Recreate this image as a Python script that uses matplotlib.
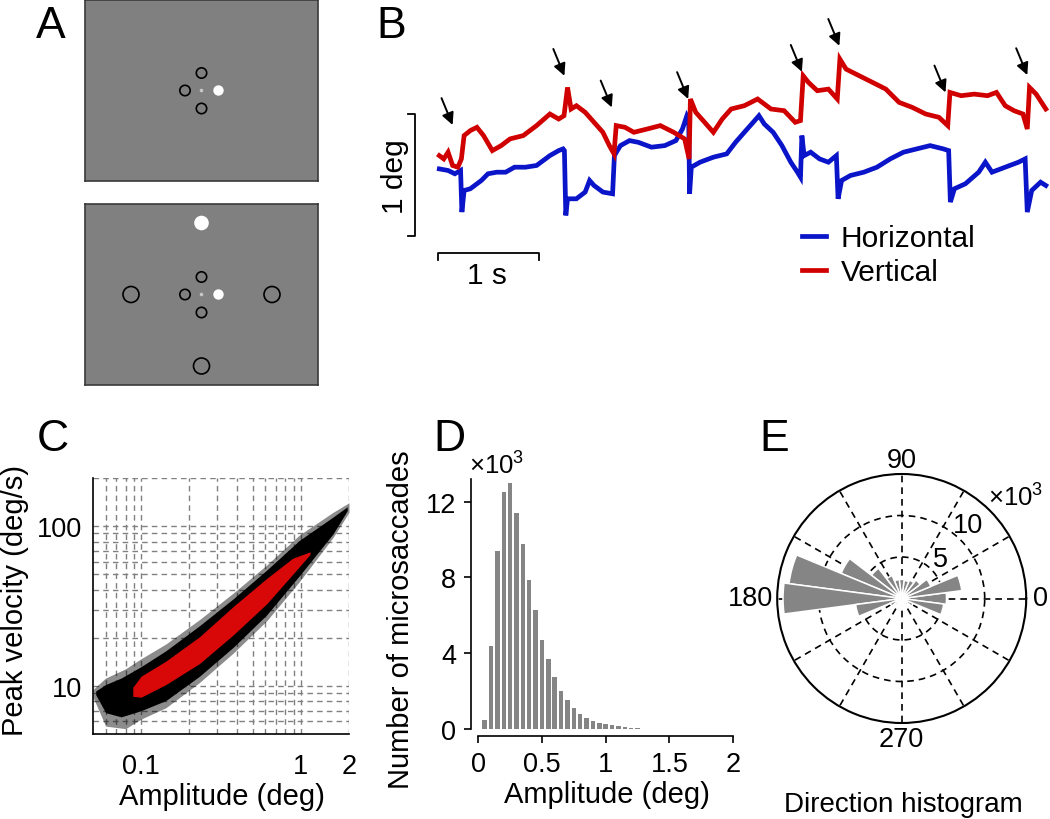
"""Microsaccade figure: task screens, eye traces, main sequence, amplitude and direction histograms."""

import matplotlib
matplotlib.use("Agg")
import matplotlib.pyplot as plt
import numpy as np
from matplotlib.patches import Circle
from matplotlib.ticker import FixedLocator, FixedFormatter, NullFormatter

plt.rcParams["font.family"] = ["Liberation Sans", "DejaVu Sans"]
plt.rcParams["font.size"] = 19
plt.rcParams["mathtext.fontset"] = "custom"
plt.rcParams["mathtext.rm"] = "Liberation Sans"

# ---- panel A: stimulus positions (offsets from screen centre, px) ----
near_ring_x = [-16.5, 0, 0]
near_ring_y = [0, 17.5, -18]
near_target = (17, 0)
far_ring_x = [-70.5, 70.5, 0]
far_ring_y = [0, 0, -71.5]
far_target = (0, 71.5)

# ---- panel B: eye position traces (s, deg) ----
blue_t = [0.013, 0.10, 0.167, 0.224, 0.237, 0.259, 0.32, 0.364, 0.43, 0.496, 0.583, 0.671,
          0.759, 0.868, 0.978, 1.11, 1.197, 1.241, 1.254, 1.268, 1.285, 1.373, 1.46, 1.504,
          1.548, 1.636, 1.732, 1.75, 1.81, 1.90, 1.987, 2.118, 2.25, 2.36, 2.425, 2.469,
          2.487, 2.496, 2.513, 2.60, 2.732, 2.864, 2.952, 3.039, 3.127, 3.184, 3.237, 3.325,
          3.412, 3.50, 3.566, 3.596, 3.61, 3.632, 3.697, 3.785, 3.873, 3.952, 3.969, 4.004,
          4.092, 4.224, 4.355, 4.487, 4.618, 4.75, 4.882, 5.013, 5.066, 5.083, 5.123, 5.232,
          5.364, 5.43, 5.496, 5.627, 5.759, 5.825, 5.846, 5.89, 5.978, 6.03]
blue_v = [0.55, 0.537, 0.51, 0.537, 0.196, 0.373, 0.387, 0.414, 0.455, 0.51, 0.523, 0.523,
          0.564, 0.564, 0.578, 0.659, 0.70, 0.714, 0.70, 0.169, 0.305, 0.305, 0.36, 0.455,
          0.414, 0.36, 0.346, 0.66, 0.741, 0.782, 0.768, 0.728, 0.741, 0.782, 0.877, 0.986,
          0.959, 0.346, 0.564, 0.605, 0.646, 0.673, 0.768, 0.85, 0.932, 0.986, 0.918, 0.85,
          0.741, 0.605, 0.523, 0.482, 0.823, 0.659, 0.687, 0.632, 0.605, 0.659, 0.305, 0.455,
          0.496, 0.523, 0.564, 0.632, 0.687, 0.714, 0.741, 0.714, 0.70, 0.278, 0.387, 0.428,
          0.523, 0.605, 0.523, 0.564, 0.605, 0.632, 0.196, 0.373, 0.441, 0.414]
red_t = [0.013, 0.057, 0.10, 0.145, 0.197, 0.232, 0.259, 0.32, 0.386, 0.452, 0.539, 0.627,
         0.715, 0.846, 0.978, 1.11, 1.197, 1.25, 1.285, 1.32, 1.373, 1.46, 1.548, 1.636,
         1.70, 1.746, 1.768, 1.855, 1.943, 2.075, 2.206, 2.338, 2.447, 2.491, 2.504, 2.557,
         2.645, 2.732, 2.82, 2.908, 3.039, 3.171, 3.303, 3.434, 3.544, 3.596, 3.623, 3.675,
         3.763, 3.873, 3.961, 3.987, 4.048, 4.18, 4.311, 4.443, 4.575, 4.706, 4.838, 4.969,
         5.057, 5.079, 5.189, 5.32, 5.452, 5.54, 5.627, 5.715, 5.803, 5.846, 5.868, 5.934,
         6.03]
red_v = [0.659, 0.632, 0.687, 0.578, 0.564, 0.632, 0.823, 0.864, 0.891, 0.823, 0.70, 0.741,
         0.796, 0.823, 0.905, 1.0, 0.959, 0.986, 1.218, 1.041, 1.068, 1.014, 0.932, 0.85,
         0.741, 0.673, 0.905, 0.891, 0.85, 0.877, 0.905, 0.85, 0.796, 0.632, 1.123, 1.014,
         0.932, 0.85, 0.959, 1.041, 1.068, 1.123, 1.041, 1.027, 0.932, 0.946, 1.313, 1.259,
         1.191, 1.204, 1.123, 1.45, 1.368, 1.313, 1.259, 1.204, 1.095, 1.054, 1.0, 0.973,
         0.905, 1.177, 1.15, 1.163, 1.15, 1.177, 1.068, 1.027, 1.0, 0.877, 1.218, 1.163,
         1.041]
# detected microsaccades (arrow tips)
arrow_t = [0.145, 1.254, 1.724, 2.482, 3.61, 3.982, 5.035, 5.846]
arrow_v = [0.91, 1.313, 1.054, 1.123, 1.346, 1.559, 1.177, 1.319]

# ---- panel C: main-sequence cloud envelopes (deg, deg/s) ----
halo_amp = [0.05, 0.06, 0.08, 0.1, 0.143, 0.232, 0.376, 0.61, 0.98, 1.59, 2.0]
halo_lo = [8.5, 5.6, 5.4, 6.2, 7.3, 10.5, 16.0, 25.5, 45.0, 85.0, 122.0]
halo_hi = [9.5, 11.2, 12.8, 14.8, 18.3, 26.0, 38.0, 57.0, 88.0, 122.0, 140.0]
cloud_amp = [0.052, 0.06, 0.075, 0.1, 0.143, 0.232, 0.376, 0.61, 0.98, 1.59, 1.95]
cloud_lo = [8.8, 6.8, 6.4, 7.0, 8.1, 11.5, 17.4, 27.8, 49.0, 89.5, 125.0]
cloud_hi = [9.3, 10.2, 11.2, 13.2, 16.6, 23.8, 35.0, 53.0, 81.5, 114.0, 132.0]
core_amp = [0.0887, 0.1, 0.143, 0.232, 0.376, 0.61, 0.89, 1.14]
core_lo = [8.6, 8.5, 10.2, 13.8, 20.8, 32.6, 50.0, 66.5]
core_hi = [9.8, 11.5, 14.3, 20.3, 31.3, 47.0, 63.0, 69.0]

# ---- panel D: amplitude histogram (deg, x10^3) ----
amp_bins = [0.05, 0.10, 0.15, 0.20, 0.25, 0.30, 0.35, 0.40, 0.45, 0.50, 0.55, 0.60, 0.65,
            0.70, 0.75, 0.80, 0.85, 0.90, 0.95, 1.00, 1.05, 1.10, 1.15, 1.20, 1.25]
amp_counts = [0.48, 4.38, 9.42, 12.53, 13.0, 11.38, 9.79, 7.85, 6.26, 4.71, 3.67, 2.77, 2.03,
              1.55, 1.09, 0.79, 0.58, 0.44, 0.34, 0.25, 0.19, 0.14, 0.10, 0.07, 0.05]

# ---- panel E: direction histogram (deg, x10^3) ----
dir_bins = [0, 15, 30, 45, 60, 75, 90, 105, 120, 135, 150, 165,
            180, 195, 210, 225, 240, 255, 270, 285, 300, 315, 330, 345]
dir_counts = [5.4, 7.3, 3.8, 2.8, 2.4, 2.2, 2.3, 2.3, 3.0, 4.6, 7.9, 13.7,
              14.3, 5.6, 1.5, 1.0, 0.9, 0.8, 0.8, 0.8, 0.9, 1.0, 1.5, 5.1]

BLUE = "#0a14c8"
RED = "#d00000"
GRAY = "#858585"
FS_LAB = 21
FS_TICK = 19.5
FS_PANEL = 32
X10 = r"$\mathregular{\times10^{3}}$"

W, H = 1050, 820
fig = plt.figure(figsize=(W / 100, H / 100), dpi=100)


def px_rect(x0, y0, x1, y1):
    return [x0 / W, 1 - y1 / H, (x1 - x0) / W, (y1 - y0) / H]


def ftext(x, y, s, **kw):
    fig.text(x / W, 1 - y / H, s, **kw)


# ---------------- A ----------------
def screen(rect, rings_x, rings_y, ring_r, target, target_r):
    ax = fig.add_axes(rect)
    ax.set_facecolor("#808080")
    ax.set_xlim(-116.5, 116.5)
    ax.set_ylim(-90.5, 90.5)
    ax.set_xticks([])
    ax.set_yticks([])
    for sp in ax.spines.values():
        sp.set_color("#3a3a3a")
        sp.set_linewidth(1.2)
    for x, y in zip(rings_x, rings_y):
        ax.add_patch(Circle((x, y), ring_r, fill=False, ec="k", lw=1.2))
    ax.add_patch(Circle(target, target_r, color="white", lw=0))
    ax.add_patch(Circle((0, 0), 1.8, color="#c8c8c8", lw=0))
    return ax


screen(px_rect(85, 1, 318, 182), near_ring_x, near_ring_y, 5.2, near_target, 5.2)
axa2 = screen(px_rect(85, 205, 318, 386), near_ring_x, near_ring_y, 5.2, near_target, 5.2)
for x, y in zip(far_ring_x, far_ring_y):
    axa2.add_patch(Circle((x, y), 8, fill=False, ec="k", lw=1.2))
axa2.add_patch(Circle(far_target, 7.3, color="white", lw=0))

# ---------------- B ----------------
PX_S, PX_DEG, X0, Y0 = 100.8, 122.0, 438.0, 237.0
bx0, by0, bx1, by1 = 370, 5, 1050, 300
axb = fig.add_axes(px_rect(bx0, by0, bx1, by1))
axb.set_xlim((bx0 - X0) / PX_S, (bx1 - X0) / PX_S)
axb.set_ylim((Y0 - by1) / PX_DEG, (Y0 - by0) / PX_DEG)
axb.axis("off")
axb.plot(blue_t, blue_v, color=BLUE, lw=3.4, solid_joinstyle="miter", label="Horizontal")
axb.plot(red_t, red_v, color=RED, lw=3.4, solid_joinstyle="miter", label="Vertical")
for t, v in zip(arrow_t, arrow_v):
    axb.annotate("", xy=(t, v), xytext=(t - 0.11, v + 0.22),
                 arrowprops=dict(arrowstyle="-|>", color="k", lw=1.4,
                                 mutation_scale=18, shrinkA=0, shrinkB=0))
# scale bars
xb = (415 - X0) / PX_S
xt = (408 - X0) / PX_S
axb.plot([xt, xb, xb, xt], [1, 1, 0, 0], color="k", lw=1.3, clip_on=False)
yb = (Y0 - 254) / PX_DEG
yt = (Y0 - 261) / PX_DEG
axb.plot([0, 0, 1, 1], [yt, yb, yb, yt], color="k", lw=1.3, clip_on=False)
ftext(395, 177, "1 deg", rotation=90, ha="center", va="center", fontsize=21.5)
ftext(487, 276, "1 s", ha="center", va="center", fontsize=21.5)
axb.legend(loc="upper left", bbox_to_anchor=(802 / W, 1 - 225 / H),
           bbox_transform=fig.transFigure, frameon=False, fontsize=21.5,
           handlelength=0.8, handletextpad=0.5, labelspacing=0.2,
           borderpad=0, borderaxespad=0)

# ---------------- C ----------------
axc = fig.add_axes(px_rect(93, 479, 349, 735))
axc.set_xscale("log")
axc.set_yscale("log")
axc.set_xlim(0.05, 2)
axc.set_ylim(5, 200)
axc.fill_between(halo_amp, halo_lo, halo_hi, color="k", alpha=0.45, lw=0, zorder=2)
axc.fill_between(cloud_amp, cloud_lo, cloud_hi, color="k", lw=0, zorder=2)
axc.fill_between(core_amp, core_lo, core_hi, color="#ff0a0a", alpha=0.85, lw=0, zorder=3)
axc.xaxis.set_major_locator(FixedLocator([0.1, 1, 2]))
axc.xaxis.set_major_formatter(FixedFormatter(["0.1", "1", "2"]))
axc.xaxis.set_minor_locator(FixedLocator([0.06, 0.07, 0.08, 0.09, 0.2, 0.3, 0.4, 0.5,
                                          0.6, 0.7, 0.8, 0.9]))
axc.xaxis.set_minor_formatter(NullFormatter())
axc.yaxis.set_major_locator(FixedLocator([10, 100]))
axc.yaxis.set_major_formatter(FixedFormatter(["10", "100"]))
axc.yaxis.set_minor_locator(FixedLocator([6, 7, 8, 9, 20, 30, 40, 50, 60, 70, 80, 90, 200]))
axc.yaxis.set_minor_formatter(NullFormatter())
axc.set_axisbelow(True)
axc.grid(which="both", color="#808080", ls=(0, (4, 3)), lw=1.0)
axc.tick_params(which="both", length=0, labelsize=FS_TICK)
axc.tick_params(axis="x", pad=14)
axc.tick_params(axis="y", pad=8)
axc.spines["top"].set_visible(False)
axc.spines["right"].set_visible(False)
for s in ("left", "bottom"):
    axc.spines[s].set_linewidth(1.2)
ftext(222, 797, "Amplitude (deg)", ha="center", va="center", fontsize=FS_LAB)
ftext(15, 601, "Peak velocity (deg/s)", rotation=90, ha="center", va="center", fontsize=FS_LAB)

# ---------------- D ----------------
axd = fig.add_axes(px_rect(478.3, 480, 733, 730))
axd.bar(amp_bins, amp_counts, width=0.035, color=GRAY, lw=0)
axd.set_xlim(0, 2)
axd.set_ylim(0, 13.2)
axd.set_xticks([0, 0.5, 1, 1.5, 2])
axd.set_xticklabels(["0", "0.5", "1", "1.5", "2"])
axd.set_yticks([0, 4, 8, 12])
for s in ("top", "right"):
    axd.spines[s].set_visible(False)
for s in ("left", "bottom"):
    axd.spines[s].set_position(("outward", 5))
    axd.spines[s].set_linewidth(1.2)
axd.tick_params(length=5, width=1.2, pad=6, labelsize=FS_TICK)
ftext(469, 466, X10, ha="left", va="center", fontsize=18.5)
ftext(607, 795, "Amplitude (deg)", ha="center", va="center", fontsize=FS_LAB)
ftext(401, 620, "Number of microsaccades", rotation=90, ha="center", va="center",
      fontsize=FS_LAB)

# ---------------- E ----------------
cx, cy, rad = 901.7, 599.5, 124.5
axe = fig.add_axes(px_rect(cx - rad, cy - rad, cx + rad, cy + rad), projection="polar")
axe.bar(np.deg2rad(dir_bins), dir_counts, width=np.deg2rad(15), color=GRAY,
        edgecolor="white", lw=1.1, zorder=3)
axe.set_ylim(0, 15)
axe.set_rticks([5, 10])
axe.set_yticklabels([])
axe.set_thetagrids(range(0, 360, 30), [""] * 12)
axe.set_axisbelow(True)
axe.grid(True, color="k", ls=(0, (4, 3)), lw=1.2)
axe.spines["polar"].set_linewidth(1.5)
ftext(901.7, 461, "90", ha="center", va="center", fontsize=FS_TICK)
ftext(1041, 599.5, "0", ha="center", va="center", fontsize=FS_TICK)
ftext(750, 599.5, "180", ha="center", va="center", fontsize=FS_TICK)
ftext(901.7, 740, "270", ha="center", va="center", fontsize=FS_TICK)
ftext(940, 560, "5", ha="center", va="center", fontsize=FS_TICK)
ftext(968, 526, "10", ha="center", va="center", fontsize=FS_TICK)
ftext(1016, 498, X10, ha="center", va="center", fontsize=18.5)
ftext(903, 805, "Direction histogram", ha="center", va="center", fontsize=20)

# panel letters
for letter, x, y in [("A", 36, 38), ("B", 376, 38), ("C", 37, 451), ("D", 433, 451),
                     ("E", 759, 451)]:
    ftext(x, y, letter, ha="left", va="baseline", fontsize=FS_PANEL)

fig.savefig("out.png", dpi=100)
